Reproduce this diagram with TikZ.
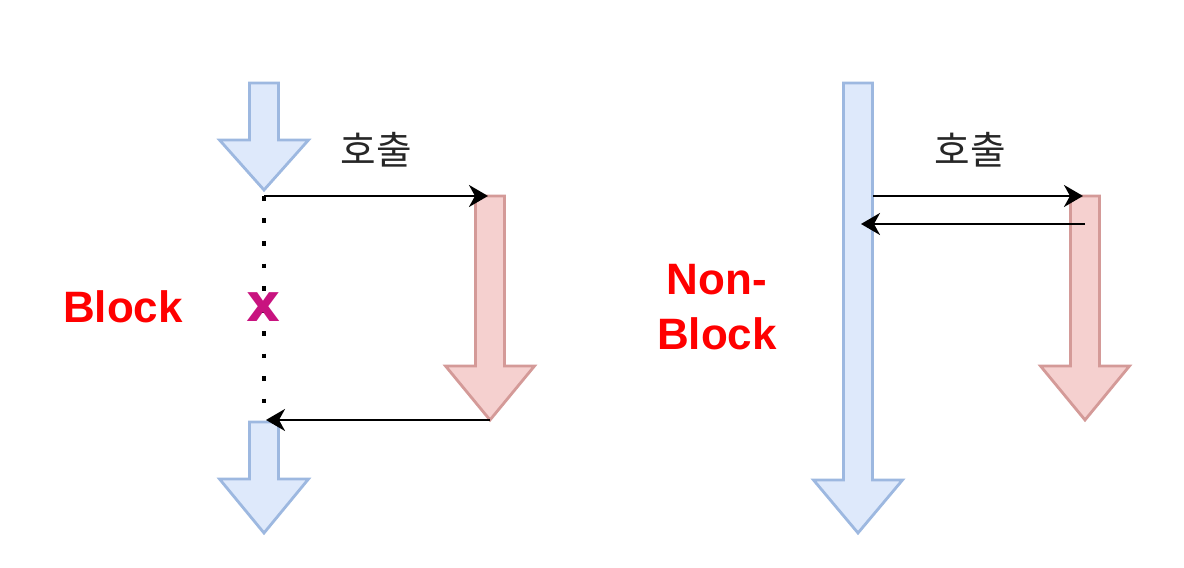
\documentclass[tikz,border=0pt]{standalone}
\usepackage{fontspec}
\setmainfont{Liberation Sans}
\newfontfamily\krfont{Noto Sans CJK KR}
\newfontfamily\markfont{DejaVu Sans}
\usepackage{tikz}
\usetikzlibrary{arrows.meta,positioning,calc}
\definecolor{FlowBlueFill}{HTML}{DEE9FB}
\definecolor{FlowBlueLine}{HTML}{9DB8E0}
\definecolor{FlowRedFill}{HTML}{F5D0CF}
\definecolor{FlowRedLine}{HTML}{D49A98}
\definecolor{ModeRed}{HTML}{FF0000}
\definecolor{WaitMark}{HTML}{C8137F}
% fat arrow: style, x centre, y top, y head base, y tip, name
\newcommand{\fatarrow}[6]{%
  \draw[#1] (#2-14.5,#3) -- (#2+14.5,#3) -- (#2+14.5,#4) -- (#2+44.5,#4)
    -- (#2,#5) -- (#2-44.5,#4) -- (#2-14.5,#4) -- cycle;
  \coordinate (#6-tail) at (#2,#3);
  \coordinate (#6-tip) at (#2,#5);}

\begin{document}
\begin{tikzpicture}[x=0.01cm,y=-0.01cm,
    flowblue/.style={draw=FlowBlueLine,fill=FlowBlueFill,line width=0.8pt,line join=miter},
    flowred/.style={draw=FlowRedLine,fill=FlowRedFill,line width=0.8pt,line join=miter},
    call/.style={-{Stealth[length=1.9mm,width=2.2mm,inset=0.6mm]},line width=0.65pt,black},
    wait/.style={line width=1.3pt,dash pattern=on 1.3pt off 5.1pt},
    mode/.style={ModeRed,font=\fontsize{12.5}{15.6}\selectfont\bfseries,align=center},
    calltext/.style={text=black!85,font=\krfont\fontsize{11}{13}\selectfont}
  ]
    \useasboundingbox (0,0) rectangle (1184,568);

    % blocking call
    \fatarrow{flowblue}{264}{83}{140}{190}{bt}
    \fatarrow{flowblue}{264}{422}{479}{533}{bb}
    \fatarrow{flowred}{490}{196}{366}{420}{br}
    \coordinate (bout) at ($(bt-tip)+(0,6)$);
    \draw[wait] (bout) -- ($(bb-tail)-(0,12)$);
    \node[text=WaitMark,font=\markfont\fontsize{15}{17}\selectfont\bfseries] (stop) at (264,307) {x};
    \draw[call] (bout) -- ($(br-tail)+(-2,0)$);
    \draw[call] (br-tip) -- ($(br-tip -| bb-tail)+(2,0)$);
    \node[calltext] (bcall) at (376,150) {호출};
    \node[mode] (block) at (123,307) {Block};

    % non-blocking call
    \fatarrow{flowblue}{858}{83}{480}{533}{nb}
    \fatarrow{flowred}{1085}{196}{366}{420}{nr}
    \coordinate (nbout) at (873,196);
    \coordinate (nrback) at (1085,224);
    \coordinate (nbin) at (861,224);
    \draw[call] (nbout) -- ($(nr-tail)+(-2,0)$);
    \draw[call] (nrback) -- (nbin);
    \node[calltext] (ncall) at (970,150) {호출};
    \node[mode] (nonblock) at (717,307) {Non-\\Block};
  \end{tikzpicture}
\end{document}
